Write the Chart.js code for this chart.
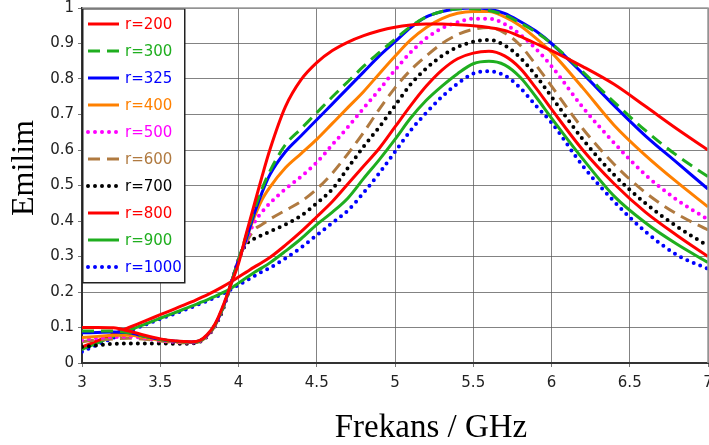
<!DOCTYPE html>
<html>
<head>
<meta charset="utf-8">
<script src="https://cdn.jsdelivr.net/npm/chart.js@4"></script>
<style>
  body { margin: 0; background: #fff; }
</style>
</head>
<body>
<canvas id="chart" width="709" height="445"></canvas>
<script>
// --- data ---
const freq = [3.0,3.1,3.2,3.3,3.4,3.5,3.6,3.7,3.75,3.8,3.85,3.9,3.95,4.0,4.05,4.1,4.15,4.2,
              4.3,4.4,4.5,4.6,4.7,4.8,4.9,5.0,5.1,5.2,5.3,5.4,5.5,5.6,5.7,5.8,5.9,6.0,
              6.2,6.4,6.6,6.8,7.0];

const r200 = [0.100,0.100,0.099,0.090,0.078,0.068,0.062,0.060, 0.063,0.080,0.110,0.160,0.220,0.280,0.365,0.445,0.525,0.600,
              0.722,0.798,0.846,0.880,0.904,0.922,0.936,0.946,0.952,0.955,0.955,0.953,0.950,0.945,0.937,0.920,0.900,0.880,
              0.835,0.785,0.723,0.660,0.600];
const r300 = [0.090,0.090,0.090,0.085,0.075,0.066,0.061,0.059, 0.062,0.078,0.108,0.155,0.220,0.290,0.360,0.430,0.490,0.540,
              0.615,0.660,0.705,0.750,0.793,0.836,0.875,0.912,0.948,0.975,0.990,0.997,0.998,0.993,0.980,0.958,0.932,0.900,
              0.820,0.735,0.655,0.585,0.525];
const r325 = [0.085,0.086,0.087,0.085,0.075,0.066,0.061,0.059, 0.062,0.078,0.108,0.155,0.220,0.290,0.350,0.420,0.480,0.530,
              0.595,0.640,0.685,0.730,0.775,0.820,0.865,0.905,0.945,0.975,0.990,0.998,1.000,0.997,0.985,0.962,0.935,0.900,
              0.815,0.725,0.640,0.565,0.490];
const r400 = [0.072,0.075,0.078,0.078,0.072,0.064,0.060,0.058, 0.061,0.077,0.107,0.155,0.220,0.290,0.350,0.410,0.460,0.495,
              0.550,0.590,0.630,0.675,0.720,0.765,0.815,0.864,0.910,0.945,0.970,0.985,0.990,0.990,0.975,0.950,0.915,0.875,
              0.775,0.670,0.585,0.510,0.440];
const r500 = [0.065,0.070,0.073,0.074,0.070,0.063,0.059,0.058, 0.061,0.077,0.106,0.155,0.220,0.290,0.345,0.395,0.425,0.450,
              0.490,0.525,0.565,0.615,0.665,0.718,0.770,0.825,0.875,0.915,0.943,0.960,0.970,0.970,0.955,0.925,0.885,0.836,
              0.720,0.620,0.530,0.460,0.404];
const r600 = [0.060,0.065,0.068,0.070,0.067,0.062,0.058,0.057, 0.060,0.076,0.105,0.155,0.220,0.290,0.340,0.375,0.390,0.405,
              0.430,0.455,0.490,0.535,0.590,0.650,0.715,0.775,0.825,0.865,0.900,0.925,0.940,0.945,0.930,0.895,0.840,0.780,
              0.660,0.560,0.480,0.420,0.375];
const r700 = [0.045,0.050,0.054,0.055,0.055,0.055,0.054,0.055, 0.059,0.075,0.104,0.150,0.220,0.290,0.335,0.350,0.360,0.370,
              0.390,0.415,0.450,0.490,0.550,0.610,0.665,0.725,0.785,0.830,0.865,0.890,0.905,0.910,0.895,0.860,0.810,0.750,
              0.630,0.530,0.450,0.385,0.330];
const r800 = [0.045,0.063,0.082,0.100,0.118,0.136,0.154,0.172, 0.182,0.192,0.203,0.215,0.228,0.242,0.256,0.270,0.283,0.297,
              0.332,0.370,0.412,0.455,0.505,0.555,0.605,0.665,0.725,0.780,0.825,0.857,0.873,0.878,0.865,0.830,0.775,0.715,
              0.600,0.505,0.425,0.360,0.300];
const r900 = [0.038,0.057,0.075,0.092,0.109,0.126,0.143,0.160, 0.169,0.178,0.188,0.198,0.210,0.225,0.240,0.255,0.268,0.282,
              0.315,0.350,0.390,0.425,0.465,0.520,0.573,0.630,0.690,0.740,0.780,0.815,0.843,0.850,0.840,0.805,0.750,0.690,
              0.575,0.470,0.395,0.335,0.283];
const r1000 = [0.032,0.052,0.071,0.090,0.107,0.124,0.140,0.157, 0.166,0.175,0.185,0.195,0.207,0.220,0.232,0.245,0.257,0.268,
              0.295,0.325,0.360,0.395,0.430,0.480,0.535,0.595,0.655,0.705,0.750,0.787,0.815,0.822,0.810,0.775,0.725,0.677,
              0.555,0.455,0.370,0.305,0.265];

const labels = ['r=200','r=300','r=325','r=400','r=500','r=600','r=700','r=800','r=900','r=1000'];
const seriesList = [r200, r300, r325, r400, r500, r600, r700, r800, r900, r1000];
const xTicks = [3, 3.5, 4, 4.5, 5, 5.5, 6, 6.5, 7];
const yTicks = [0, 0.1, 0.2, 0.3, 0.4, 0.5, 0.6, 0.7, 0.8, 0.9, 1];

// line styles
const DOT = [0, 7];
const DASH = [12, 7];
const styles = [
  { color: '#ff0000', dash: [] },
  { color: '#1fae1f', dash: DASH },
  { color: '#0000ff', dash: [] },
  { color: '#ff8000', dash: [] },
  { color: '#ff00ff', dash: DOT },
  { color: '#b07a40', dash: DASH },
  { color: '#000000', dash: DOT },
  { color: '#ff0000', dash: [] },
  { color: '#1fae1f', dash: [] },
  { color: '#0000ff', dash: DOT }
];

const datasets = seriesList.map((s, i) => ({
  label: labels[i],
  data: s.map((v, k) => ({ x: freq[k], y: v })),
  borderColor: styles[i].color,
  borderWidth: styles[i].dash === DOT ? 4 : 3,
  borderDash: styles[i].dash,
  borderCapStyle: styles[i].dash === DOT ? 'round' : 'butt',
  pointRadius: 0,
  cubicInterpolationMode: 'monotone',
  fill: false
}));

// legend box inside the plot, top-left
const legendBox = {
  id: 'legendBox',
  afterDatasetsDraw(chart) {
    const { ctx, chartArea } = chart;
    const x0 = chartArea.left, y0 = chartArea.top;
    ctx.save();
    ctx.fillStyle = '#fff';
    ctx.fillRect(x0, y0, 103, 275);
    ctx.strokeStyle = '#222';
    ctx.lineWidth = 1.5;
    ctx.strokeRect(x0 + 0.75, y0 + 0.75, 102, 274);
    chart.data.datasets.forEach((ds, i) => {
      const y = y0 + 16 + i * 27;
      ctx.strokeStyle = ds.borderColor;
      ctx.lineWidth = ds.borderWidth;
      ctx.setLineDash(ds.borderDash);
      ctx.lineCap = ds.borderCapStyle;
      ctx.beginPath();
      ctx.moveTo(x0 + 6, y);
      ctx.lineTo(x0 + 37, y);
      ctx.stroke();
      ctx.setLineDash([]);
      ctx.fillStyle = ds.borderColor;
      ctx.font = '15px "DejaVu Sans"';
      ctx.textBaseline = 'middle';
      ctx.textAlign = 'left';
      ctx.fillText(ds.label, x0 + 43, y + 1);
    });
    ctx.restore();
  }
};

// top/right frame + axis titles
const frameAndTitles = {
  id: 'frameAndTitles',
  afterDraw(chart) {
    const { ctx, chartArea } = chart;
    ctx.save();
    ctx.strokeStyle = '#999';
    ctx.lineWidth = 1.5;
    ctx.beginPath();
    ctx.moveTo(chartArea.left, chartArea.top);
    ctx.lineTo(chartArea.right, chartArea.top);
    ctx.lineTo(chartArea.right, chartArea.bottom);
    ctx.stroke();

    ctx.fillStyle = '#000';
    ctx.font = '32px "Liberation Serif"';
    ctx.textAlign = 'center';
    ctx.textBaseline = 'alphabetic';
    ctx.save();
    ctx.translate(33, 168);
    ctx.rotate(-Math.PI / 2);
    ctx.fillText('Emilim', 0, 0);
    ctx.restore();

    ctx.font = '33px "Liberation Serif"';
    ctx.fillText('Frekans / GHz', 431, 437);
    ctx.restore();
  }
};

const gridStyle = {
  color: 'rgba(90,90,90,0.75)',
  lineWidth: 1,
  borderDash: [2, 3],
  tickLength: 4,
  tickColor: '#777',
  tickBorderDash: []
};

new Chart(document.getElementById('chart'), {
  type: 'line',
  data: { datasets },
  options: {
    responsive: false,
    animation: false,
    layout: { padding: { top: 8, right: 1, left: 0, bottom: 0 } },
    plugins: { legend: { display: false }, tooltip: { enabled: false } },
    scales: {
      x: {
        type: 'linear',
        min: 3, max: 7,
        afterBuildTicks: s => { s.ticks = xTicks.map(v => ({ value: v })); },
        afterFit: s => { s.height = 82; s.paddingLeft = 0; s.paddingRight = 0; },
        grid: gridStyle,
        border: { color: '#333', width: 2 },
        ticks: { color: '#222', font: { family: 'DejaVu Sans', size: 15 }, padding: 7,
                 maxRotation: 0, callback: v => String(v) }
      },
      y: {
        type: 'linear',
        min: 0, max: 1,
        afterBuildTicks: s => { s.ticks = yTicks.map(v => ({ value: v })); },
        afterFit: s => { s.width = 82; s.paddingTop = 0; s.paddingBottom = 0; },
        grid: gridStyle,
        border: { color: '#333', width: 2 },
        ticks: { color: '#222', font: { family: 'DejaVu Sans', size: 15 }, padding: 4,
                 callback: v => String(v) }
      }
    }
  },
  plugins: [legendBox, frameAndTitles]
});
</script>
</body>
</html>
